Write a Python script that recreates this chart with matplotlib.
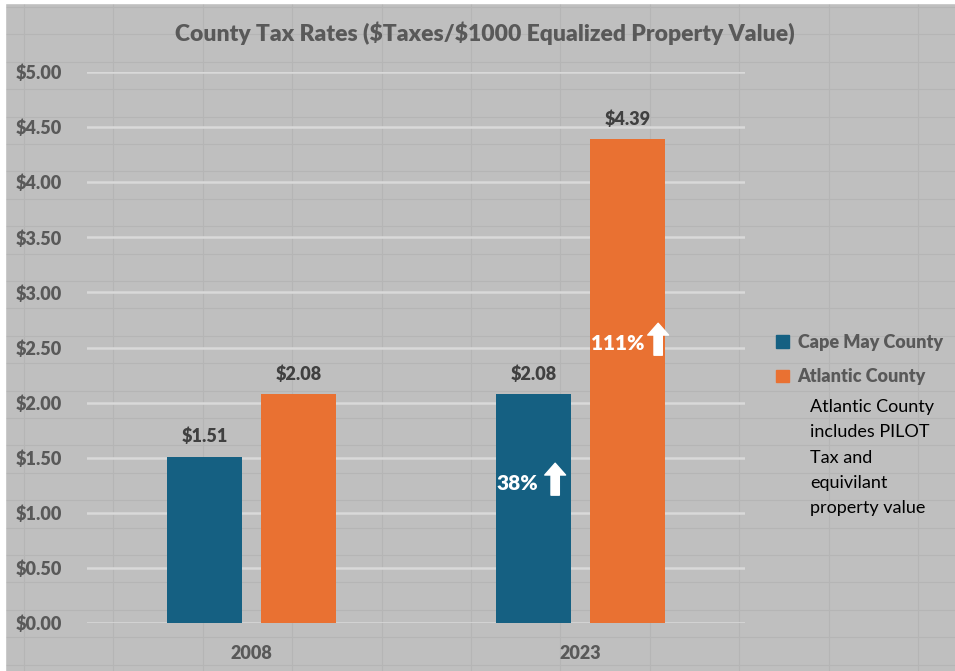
import numpy as np
import matplotlib
matplotlib.use("Agg")
import matplotlib.pyplot as plt
from matplotlib.lines import Line2D
from matplotlib.patches import Patch, Rectangle

# chart data
years = ["2008", "2023"]
cape_may = [1.51, 2.08]
atlantic = [2.08, 4.39]
series_names = ["Cape May County", "Atlantic County"]
note_lines = ["Atlantic County", "includes PILOT", "Tax and", "equivilant", "property value"]

BLUE = "#156082"
ORANGE = "#E97132"
BG = "#bfbfbf"
GRAY = "#595959"
FONT = ["Lato", "DejaVu Sans"]

fig = plt.figure(figsize=(9.55, 6.71), dpi=100, facecolor=BG)

# faint spreadsheet cell lines behind the chart
for gx in np.arange(24, 955, 89.4):
    fig.add_artist(Line2D([gx / 955, gx / 955], [0, 1], color="#b5b5b5", lw=0.8, zorder=0))
for gy in np.arange(7, 671, 27.4):
    fig.add_artist(Line2D([0, 1], [1 - gy / 671, 1 - gy / 671], color="#b5b5b5", lw=0.8, zorder=0))
fig.add_artist(Rectangle((0, 0), 5 / 955, 1, color="white", zorder=0))
fig.add_artist(Rectangle((0, 1 - 3 / 671), 1, 3 / 671, color="white", zorder=0))

ax = fig.add_axes([87 / 955, 48 / 671, 658 / 955, 551 / 671])
ax.set_facecolor("none")

x = np.arange(len(years))
offset = 0.143
width = 0.227
b1 = ax.bar(x - offset, cape_may, width, color=BLUE, zorder=3)
b2 = ax.bar(x + offset, atlantic, width, color=ORANGE, zorder=3)

for bars in (b1, b2):
    ax.bar_label(bars, labels=[f"\\${v:.2f}" for v in bars.datavalues], padding=8,
                 fontsize=13, fontweight="heavy", color="#404040", family=FONT)

ax.set_xlim(-0.5, 1.5)
ax.set_ylim(0, 5.0)
ax.set_yticks(np.arange(0, 5.01, 0.5))
ax.set_yticklabels([f"\\${v:.2f}" for v in np.arange(0, 5.01, 0.5)])
ax.set_xticks(x)
ax.set_xticklabels(years)
ax.yaxis.grid(True, color="#d9d9d9", lw=1.8, zorder=1)
ax.set_axisbelow(True)
for s in ax.spines.values():
    s.set_visible(False)
ax.tick_params(axis="both", length=0, colors=GRAY)
ax.tick_params(axis="y", pad=18)
ax.tick_params(axis="x", pad=16)
for lab in ax.get_yticklabels() + ax.get_xticklabels():
    lab.set_fontsize(13)
    lab.set_fontweight("heavy")
    lab.set_family(FONT)

# percent increase annotations
pct_y = [1.27, 2.54]
arrow_base = [1.16, 2.43]
arrow_tip = [1.45, 2.72]
text_dx = [-0.05, -0.03]
arrow_dx = [0.066, 0.093]
for i, (series, centre) in enumerate([(cape_may, 1 - offset), (atlantic, 1 + offset)]):
    pct = round((series[1] / series[0] - 1) * 100)
    ax.text(centre + text_dx[i], pct_y[i], f"{pct}%", color="white", fontsize=15,
            fontweight="heavy", ha="center", va="center", zorder=5, family=FONT)
    ax.annotate("", xy=(centre + arrow_dx[i], arrow_tip[i]),
                xytext=(centre + arrow_dx[i], arrow_base[i]),
                arrowprops=dict(arrowstyle="simple,head_length=0.85,head_width=1.5,tail_width=0.6",
                                color="white", mutation_scale=10, shrinkA=0, shrinkB=0),
                zorder=5)

fig.text(485 / 955, 1 - 33 / 671, "County Tax Rates (\\$Taxes/\\$1000 Equalized Property Value)",
         ha="center", va="center", fontsize=16.5, fontweight="heavy", color=GRAY, family=FONT)

handles = [Patch(color=BLUE), Patch(color=ORANGE)]
leg = fig.legend(handles, series_names, loc="upper left", bbox_to_anchor=(776 / 955, 1 - 334 / 671),
                 frameon=False, handlelength=0.7, handleheight=0.7, handletextpad=0.5,
                 labelspacing=0.95, borderpad=0, borderaxespad=0,
                 prop=dict(size=13, weight="heavy", family="Lato"))
for t in leg.get_texts():
    t.set_color(GRAY)

fig.text(810 / 955, 1 - 399 / 671, "\n".join(note_lines), ha="left", va="top",
         fontsize=13, color="black", family=FONT, linespacing=1.72)

fig.savefig("out.png", dpi=100, facecolor=BG)
